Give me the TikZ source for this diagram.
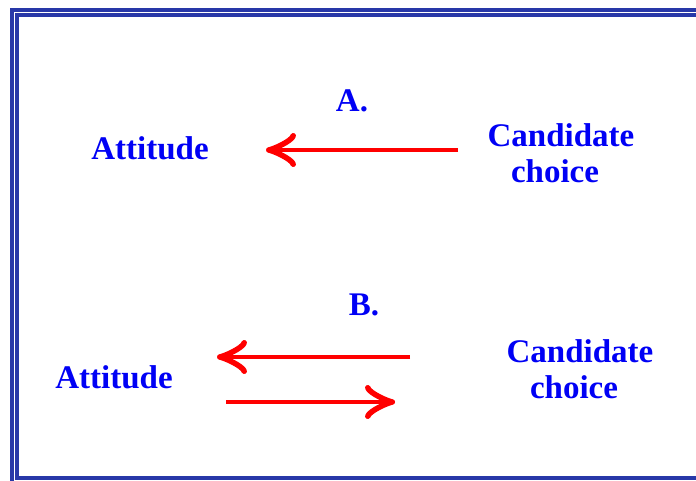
\documentclass[tikz,border=0pt]{standalone}
\usepackage{fontspec}
\setmainfont{Liberation Serif}
\usetikzlibrary{arrows.meta,positioning}
\definecolor{frameblue}{RGB}{40,56,168}
\definecolor{textblue}{RGB}{0,0,245}

\begin{document}
\begin{tikzpicture}[x=1pt,y=-1pt]
    \tikzset{
        label/.style={text=textblue, font=\fontsize{33}{36}\selectfont\bfseries, align=center, inner sep=0pt},
        relation/.style={draw=red, line width=4pt, -{Classical TikZ Rightarrow[length=30pt,width=34pt,line width=5.5pt]}}
    };
    \clip (0,0) rectangle (696,481);
    \fill[white] (0,0) rectangle (696,481);
    %double frame
    \draw[frameblue, line width=4pt] (12,10) rectangle (720,500);
    \draw[frameblue, line width=4pt] (17,15) rectangle (720,478);

    %A.
    \node[label] (titleA) at (352,101) {A.};
    \node[label] (attA) at (150,148) {Attitude};
    \node[label] (candA) at (561,153) {Candidate\\choice\hspace*{12pt}};
    \coordinate (A1) at (458,150);
    \coordinate (A2) at (266,150);
    \draw[relation] (A1) -- (A2);

    %B.
    \node[label] (titleB) at (364,305) {B.};
    \node[label] (attB) at (114,377) {Attitude};
    \node[label] (candB) at (580,369) {Candidate\\choice\hspace*{12pt}};
    \coordinate (B1) at (410,357);
    \coordinate (B2) at (217,357);
    \coordinate (B3) at (226,402);
    \coordinate (B4) at (395,402);
    \draw[relation] (B1) -- (B2);
    \draw[relation] (B3) -- (B4);
\end{tikzpicture}
\end{document}
